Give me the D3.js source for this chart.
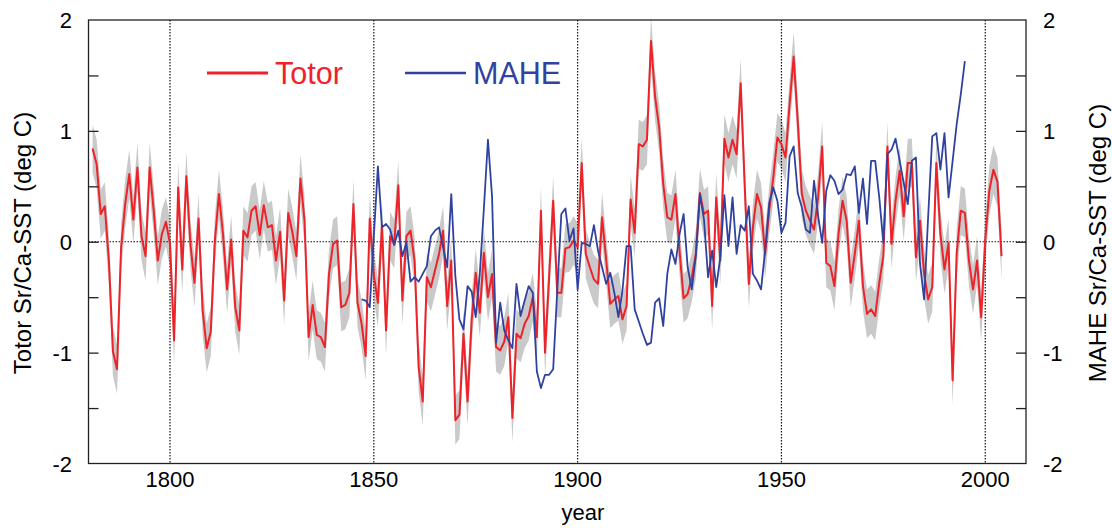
<!DOCTYPE html>
<html>
<head>
<meta charset="utf-8">
<script src="https://cdn.jsdelivr.net/npm/d3@7"></script>
<style>
  body { margin: 0; background: #fff; }
  svg text { font-family: "Liberation Sans", Arial, Helvetica, sans-serif; }
</style>
</head>
<body>
<div id="chart"></div>
<script>
// Totor Sr/Ca-SST anomalies, annual, 1781-2004
var totorStart = 1781;
var totorValues = [
  0.84, 0.70, 0.25, 0.32, -0.17, -0.99, -1.15, -0.05, 0.34, 0.61,
  0.20, 0.67, 0.05, -0.13, 0.67, 0.28, -0.17, 0.07, 0.18, -0.02,
  -0.89, 0.49, -0.25, 0.59, -0.02, -0.37, 0.21, -0.62, -0.96, -0.81,
  0.01, 0.43, 0.07, -0.43, 0.02, -0.59, -0.80, 0.10, 0.04, 0.28,
  0.32, 0.06, 0.33, 0.13, 0.15, -0.17, 0.09, -0.53, 0.26, 0.09,
  -0.13, 0.57, 0.19, -0.86, -0.57, -0.84, -0.86, -0.95, -0.29, -0.02,
  0.01, -0.59, -0.57, -0.46, 0.34, -0.55, -0.74, -1.03, 0.21, -0.30,
  -0.55, 0.15, -0.80, 0.05, -0.02, 0.51, -0.53, 0.05, 0.10, -0.17,
  -1.13, -1.44, -0.32, -0.41, -0.26, -0.11, 0.10, -0.58, -0.17, -1.61,
  -1.56, -0.83, -1.44, -0.71, -0.28, -0.64, -0.10, -0.50, -0.29, -0.95,
  -0.98, -0.90, -0.68, -1.59, -0.83, -0.87, -0.74, -0.67, -0.50, -0.86,
  0.28, -1.00, -0.32, 0.37, -0.46, -0.46, -0.06, -0.05, 0.01, -0.05,
  0.71, -0.11, -0.23, -0.34, -0.38, 0.22, -0.16, -0.56, -0.52, -0.49,
  -0.70, -0.58, 0.38, 0.08, 0.88, 0.86, 0.92, 1.81, 1.31, 1.03,
  0.52, 0.22, 0.20, 0.43, -0.08, -0.51, -0.47, -0.32, -0.11, 0.44,
  0.25, 0.28, -0.58, 0.40, -0.17, 0.93, 0.76, 0.92, 0.79, 1.43,
  0.50, -0.38, 0.13, 0.43, 0.31, -0.11, 0.28, 0.58, 0.94, 0.88,
  0.76, 1.24, 1.67, 1.09, 0.43, 0.28, 0.19, 0.11, 0.40, 0.86,
  -0.19, -0.22, -0.40, 0.07, 0.37, 0.19, -0.37, -0.11, 0.19, -0.40,
  -0.65, -0.61, -0.67, -0.37, -0.13, 0.86, -0.02, 0.37, 0.64, 0.23,
  0.71, 0.71, -0.14, 0.19, -0.29, -0.52, -0.41, 0.71, 0.07, -0.25,
  -0.01, -1.25, -0.10, 0.28, 0.26, -0.17, -0.43, -0.17, -0.68, 0.01,
  0.46, 0.65, 0.54, -0.13
];
// half width of the grey uncertainty band (deg C)
var totorErr = 0.22;

// MAHE Sr/Ca-SST anomalies, annual, 1847-1995
var maheStart = 1847;
var maheValues = [
  -0.52, -0.53, -0.59, 0.05, 0.68, 0.13, 0.16, 0.11, -0.03, 0.10,
  -0.13, -0.01, -0.36, -0.32, -0.36, -0.29, -0.22, 0.05, 0.10, 0.13,
  -0.05, -0.23, 0.43, -0.31, -0.70, -0.79, -0.40, -0.45, -0.68, -0.29,
  0.30, 0.92, 0.41, -0.91, -0.55, -0.80, -0.89, -0.96, -0.38, -0.67,
  -0.53, -0.40, -0.46, -1.17, -1.32, -1.20, -1.20, -1.15, -0.44, 0.25,
  0.30, 0.01, 0.12, -0.43, -0.01, -0.02, -0.04, 0.15, -0.08, -0.23,
  -0.38, -0.28, -0.46, -0.68, -0.44, -0.04, -0.04, -0.61, -0.72, -0.83,
  -0.93, -0.91, -0.55, -0.51, -0.76, -0.29, -0.07, -0.20, 0.07, 0.25,
  -0.23, -0.43, -0.13, 0.43, 0.20, -0.32, -0.08, -0.41, -0.14, 0.42,
  -0.04, 0.40, -0.11, 0.15, 0.10, 0.32, -0.29, -0.35, -0.43, -0.08,
  0.35, 0.49, 0.37, 0.08, 0.17, 0.77, 0.86, 0.44, 0.31, 0.11,
  0.08, 0.55, 0.23, -0.01, 0.46, 0.60, 0.55, 0.43, 0.47, 0.61,
  0.60, 0.68, 0.26, 0.57, 0.16, 0.73, 0.73, 0.40, -0.01, 0.79,
  0.83, 0.93, 0.73, 0.53, 0.34, 0.73, 0.76, -0.20, -0.52, 0.23,
  0.95, 0.98, 0.65, 0.98, 0.40, 0.73, 1.06, 1.33, 1.63
];

var gridYears = [1800, 1850, 1900, 1950, 2000];
var yLabels = [-2, -1, 0, 1, 2];
var yMinor = [-1.5, -1, -0.5, 0, 0.5, 1, 1.5];

var svgWidth = 1112;
var svgHeight = 528;

var totor = totorValues.map((v, i) => ({year: totorStart + i, value: v}));
var mahe = maheValues.map((v, i) => ({year: maheStart + i, value: v}));

var svg = d3.select("#chart").append("svg")
    .attr("width", svgWidth)
    .attr("height", svgHeight);

var xScale = d3.scaleLinear().domain([1780, 2010]).range([88.5, 1026]);
var yScale = d3.scaleLinear().domain([-2, 2]).range([463.5, 20]);

var red = "#ee2329";
var blue = "#3042a0";

// grey band
var band = d3.area()
    .x(d => xScale(d.year))
    .y0(d => yScale(d.value - totorErr))
    .y1(d => yScale(d.value + totorErr));

svg.append("path")
    .datum(totor)
    .attr("d", band)
    .attr("fill", "#c9c9c9");

// dotted grid lines
svg.selectAll(".vgrid")
    .data(gridYears)
    .enter()
    .append("line")
    .attr("x1", d => xScale(d))
    .attr("x2", d => xScale(d))
    .attr("y1", yScale(2))
    .attr("y2", yScale(-2))
    .attr("stroke", "#111")
    .attr("stroke-width", 1.2)
    .attr("stroke-dasharray", "1.5,1.5");

svg.append("line")
    .attr("x1", xScale(1780))
    .attr("x2", xScale(2010))
    .attr("y1", yScale(0))
    .attr("y2", yScale(0))
    .attr("stroke", "#111")
    .attr("stroke-width", 1.2)
    .attr("stroke-dasharray", "1.5,1.5");

var line = d3.line()
    .x(d => xScale(d.year))
    .y(d => yScale(d.value));

svg.append("path")
    .datum(totor)
    .attr("d", line)
    .attr("fill", "none")
    .attr("stroke", red)
    .attr("stroke-width", 2)
    .attr("stroke-linejoin", "round");

svg.append("path")
    .datum(mahe)
    .attr("d", line)
    .attr("fill", "none")
    .attr("stroke", blue)
    .attr("stroke-width", 1.8)
    .attr("stroke-linejoin", "round");

// frame
svg.append("rect")
    .attr("x", xScale(1780))
    .attr("y", yScale(2))
    .attr("width", xScale(2010) - xScale(1780))
    .attr("height", yScale(-2) - yScale(2))
    .attr("fill", "none")
    .attr("stroke", "#222")
    .attr("stroke-width", 1.3);

// inward ticks, left and right
var leftAxis = d3.axisRight(yScale).tickValues(yMinor).tickSize(10).tickFormat("");
var rightAxis = d3.axisLeft(yScale).tickValues(yMinor).tickSize(10).tickFormat("");
svg.append("g").attr("transform", `translate(${xScale(1780)},0)`).call(leftAxis)
    .call(g => g.select(".domain").remove());
svg.append("g").attr("transform", `translate(${xScale(2010)},0)`).call(rightAxis)
    .call(g => g.select(".domain").remove());
svg.selectAll(".tick line").attr("stroke", "#222").attr("stroke-width", 1.3);

// tick labels
svg.selectAll(".ylabL")
    .data(yLabels)
    .enter()
    .append("text")
    .attr("x", 72)
    .attr("y", d => yScale(d) + 8)
    .attr("text-anchor", "end")
    .attr("font-size", 22)
    .text(d => d);

svg.selectAll(".ylabR")
    .data(yLabels)
    .enter()
    .append("text")
    .attr("x", 1043)
    .attr("y", d => yScale(d) + 8)
    .attr("font-size", 22)
    .text(d => d);

svg.selectAll(".xlab")
    .data(gridYears)
    .enter()
    .append("text")
    .attr("x", d => xScale(d))
    .attr("y", 487)
    .attr("text-anchor", "middle")
    .attr("font-size", 22)
    .text(d => d);

svg.append("text")
    .attr("x", 583)
    .attr("y", 520)
    .attr("text-anchor", "middle")
    .attr("font-size", 22)
    .text("year");

svg.append("text")
    .attr("transform", "translate(31,243) rotate(-90)")
    .attr("text-anchor", "middle")
    .attr("font-size", 24)
    .text("Totor Sr/Ca-SST (deg C)");

svg.append("text")
    .attr("transform", "translate(1106,243) rotate(-90)")
    .attr("text-anchor", "middle")
    .attr("font-size", 24)
    .text("MAHE Sr/Ca-SST (deg C)");

// legend
var legend = [
  {name: "Totor", color: red, x: 207, w: 3},
  {name: "MAHE", color: blue, x: 405, w: 2.5}
];
legend.forEach(l => {
  svg.append("line")
      .attr("x1", l.x).attr("x2", l.x + 61)
      .attr("y1", 73).attr("y2", 73)
      .attr("stroke", l.color)
      .attr("stroke-width", l.w);
  svg.append("text")
      .attr("x", l.x + 68)
      .attr("y", 84)
      .attr("font-size", 30.5)
      .attr("fill", l.color)
      .text(l.name);
});
</script>
</body>
</html>
